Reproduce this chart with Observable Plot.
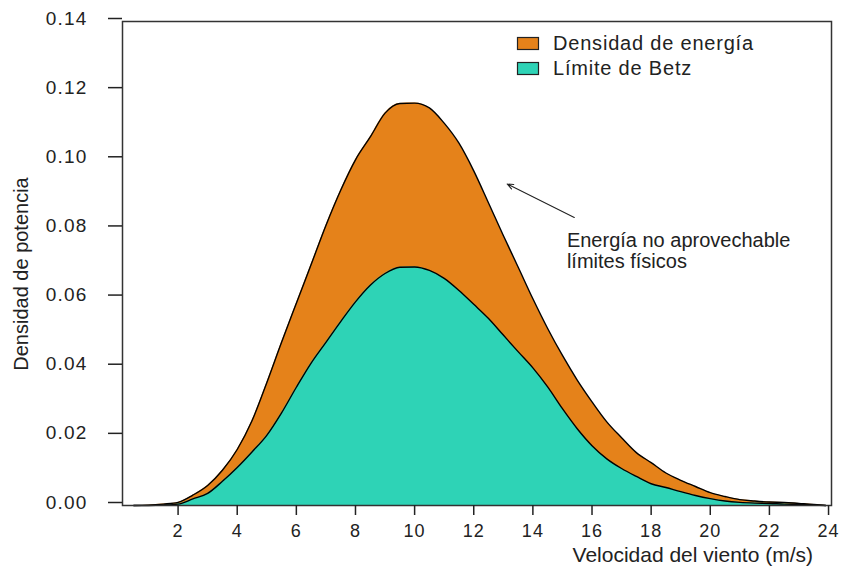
<!DOCTYPE html>
<html><head><meta charset="utf-8">
<script src="https://cdn.jsdelivr.net/npm/d3@7"></script>
<script src="https://cdn.jsdelivr.net/npm/@observablehq/plot@0.6"></script>
<style>
body{margin:0;background:#fff;}
#chart{position:relative;width:845px;height:569px;}
g[aria-label="y-axis tick label"] text{letter-spacing:1.2px;}
g[aria-label="x-axis tick label"] text{letter-spacing:1.1px;}
</style>
</head><body><div id="chart"></div>
<script>
// Wind speed (m/s)
const windSpeed = [0.5,1,1.5,2,2.5,3,3.5,4,4.5,5,5.5,6,6.5,7,7.5,8,8.5,9,9.5,10,10.5,11,11.5,12,12.5,13,13.5,14,14.5,15,15.5,16,16.5,17,17.5,18,18.5,19,19.5,20,20.5,21,21.5,22,22.5,23,23.5,23.9];
// Densidad de energía
const energyDensity = [0,0.0001,0.0004,0.0009,0.003,0.0058,0.0102,0.0162,0.0245,0.0355,0.0472,0.0585,0.0697,0.081,0.0912,0.1,0.1066,0.1135,0.1163,0.1164,0.115,0.1106,0.1048,0.0968,0.0875,0.0781,0.069,0.0598,0.0512,0.0434,0.0363,0.03,0.0242,0.0196,0.0153,0.0124,0.0094,0.0073,0.0055,0.0037,0.0026,0.0017,0.0013,0.001,0.0009,0.0006,0.0003,0];
// Límite de Betz
const betzLimit = [0,0,0.0001,0.0004,0.0019,0.0035,0.007,0.011,0.0155,0.0203,0.0268,0.0342,0.0412,0.0472,0.0532,0.0589,0.0637,0.0671,0.0689,0.069,0.068,0.0657,0.0622,0.0582,0.0541,0.0493,0.0445,0.0398,0.0343,0.028,0.0222,0.0173,0.0135,0.0107,0.0084,0.0063,0.0052,0.004,0.0029,0.002,0.0013,0.0009,0.0007,0.0006,0.0004,0.0003,0.0001,0];

const xTicks = [2,4,6,8,10,12,14,16,18,20,22,24];
const yTicks = [0,0.02,0.04,0.06,0.08,0.10,0.12,0.14];
const seriesNames = ["Densidad de energía", "Límite de Betz"];
const seriesColors = ["#E5821A", "#2ED3B6"];
const xTitle = "Velocidad del viento (m/s)";
const yTitle = "Densidad de potencia";
const annotationLines = ["Energía no aprovechable", "límites físicos"];
const arrowFrom = [15.4, 0.0833];
const arrowTo = [13.13, 0.093];
const annotationAt = [15.15, 0.0686];

const energyData = windSpeed.map((x, i) => ({x, y: energyDensity[i]}));
const betzData = windSpeed.map((x, i) => ({x, y: betzLimit[i]}));
const font = "'Liberation Sans', Arial, sans-serif";
const curve = "monotone-x";

const chart = Plot.plot({
  width: 845, height: 569,
  marginLeft: 122, marginRight: 14, marginTop: 21, marginBottom: 64,
  style: {fontFamily: font, fontSize: "19px", color: "#222", background: "#fff", overflow: "visible"},
  x: {domain: [0.12, 24.1]},
  y: {domain: [0, 0.14]},
  marks: [
    Plot.areaY(energyData, {x: "x", y: "y", fill: seriesColors[0], curve}),
    Plot.areaY(betzData, {x: "x", y: "y", fill: seriesColors[1], curve}),
    Plot.line(energyData, {x: "x", y: "y", stroke: "#000", strokeWidth: 1.4, curve}),
    Plot.line(betzData, {x: "x", y: "y", stroke: "#000", strokeWidth: 1.4, curve}),
    Plot.frame({stroke: "#333", strokeWidth: 1.5}),
    Plot.axisX({ticks: xTicks, tickSize: 10, tickPadding: 9, label: null, strokeWidth: 1.5, fontSize: 18}),
    Plot.axisY({ticks: yTicks, tickFormat: d3.format(".2f"), tickSize: 14, tickPadding: 21, dy: -3, label: null, strokeWidth: 1.5, fontSize: 19}),
    Plot.arrow([{x1: arrowFrom[0], y1: arrowFrom[1], x2: arrowTo[0], y2: arrowTo[1]}],
      {x1: "x1", y1: "y1", x2: "x2", y2: "y2", stroke: "#222", strokeWidth: 1.1, headLength: 9, headAngle: 45}),
    Plot.text([annotationLines.join("\n")], {text: d => d, x: annotationAt[0], y: annotationAt[1], textAnchor: "start", lineAnchor: "bottom", lineHeight: 1.05, fontSize: 20})
  ]
});

const svg = d3.select(chart);
// axis titles
svg.append("text").attr("x", 813).attr("y", 562).attr("text-anchor", "end").attr("font-size", 21)
  .attr("fill", "#222").attr("font-family", font).text(xTitle);
svg.append("text").attr("transform", "translate(28,274) rotate(-90)").attr("text-anchor", "middle")
  .attr("font-size", 20).attr("fill", "#222").attr("font-family", font).text(yTitle);
// legend
seriesNames.forEach((name, i) => {
  svg.append("rect").attr("x", 517.5).attr("y", 37.5 + i * 25).attr("width", 21).attr("height", 12)
    .attr("fill", seriesColors[i]).attr("stroke", "#222").attr("stroke-width", 1.2);
  svg.append("text").attr("x", 553).attr("y", 50 + i * 25).attr("font-size", 20)
    .attr("text-anchor", "start").attr("letter-spacing", "0.8px")
    .attr("fill", "#222").attr("font-family", font).text(name);
});

document.getElementById("chart").appendChild(chart);
</script>
</body></html>
